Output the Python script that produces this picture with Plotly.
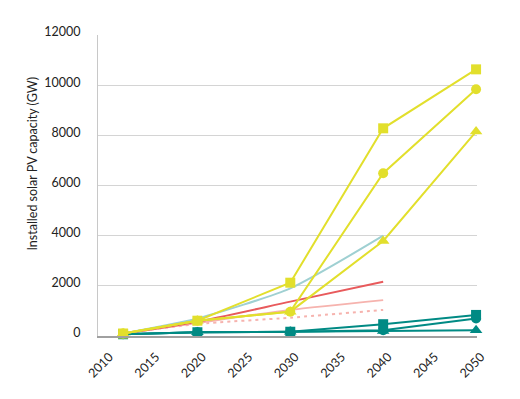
import plotly.graph_objects as go

# Years
years_marked = [2012, 2020, 2030, 2040, 2050]
years_lines = [2012, 2020, 2030, 2040]

# Yellow scenario series (marked)
yellow_square = [100, 610, 2125, 8280, 10630]
yellow_circle = [100, 610, 970, 6490, 9840]
yellow_triangle = [100, 610, 970, 3790, 8150]

# Teal scenario series (marked)
teal_square = [70, 150, 170, 470, 840]
teal_circle = [70, 150, 170, 230, 700]
teal_triangle = [70, 150, 170, 200, 230]

# Unmarked lines
light_blue = [100, 700, 1900, 4000]
red_line = [100, 570, 1370, 2160]
pink_line = [100, 520, 1040, 1430]
pink_dotted = [100, 480, 730, 1040]

y_ticks = [0, 2000, 4000, 6000, 8000, 10000, 12000]
x_ticks = [2010, 2015, 2020, 2025, 2030, 2035, 2040, 2045, 2050]
y_title = "Installed solar PV capacity (GW)"

YELLOW = "#E2DF2C"
TEAL = "#008A84"

fig = go.Figure()

def line(x, y, color, dash="solid", width=2, shape="spline"):
    fig.add_trace(go.Scatter(x=x, y=y, mode="lines",
                             line=dict(color=color, width=width, dash=dash, shape=shape, smoothing=0.6),
                             showlegend=False, cliponaxis=False, hoverinfo="skip"))

line(years_lines, pink_dotted, "#F6B3AE", dash="3px,4px", width=2)
line(years_lines, pink_line, "#F6B3AE", width=2)
line(years_lines, red_line, "#E85A5C", width=2)
line(years_lines, light_blue, "#9FD0D2", width=2)

def marked(y, color, symbol, size):
    fig.add_trace(go.Scatter(x=years_marked, y=y, mode="lines+markers",
                             line=dict(color=color, width=2),
                             marker=dict(color=color, symbol=symbol, size=size),
                             showlegend=False, cliponaxis=False))

marked(teal_triangle, TEAL, "triangle-up", 11)
marked(teal_circle, TEAL, "circle", 10)
marked(teal_square, TEAL, "square", 10)
marked(yellow_circle, YELLOW, "circle", 10)
marked(yellow_triangle, YELLOW, "triangle-up", 11)
marked(yellow_square, YELLOW, "square", 10)

fig.add_annotation(text=y_title, textangle=-90, xref="paper", yref="paper",
                   x=-0.174, y=0.573, xanchor="center", yanchor="middle",
                   showarrow=False, font=dict(size=12.5, color="#222222"))

fig.update_layout(
    width=512, height=391,
    margin=dict(l=90, r=43, t=27, b=63),
    paper_bgcolor="white", plot_bgcolor="white",
    font=dict(family="Lato, sans-serif", color="#222222", size=12.5),
    xaxis=dict(range=[2009.3, 2050.1], tickmode="array", tickvals=x_ticks,
               ticktext=[str(v) for v in x_ticks], tickangle=-45, automargin=False,
               showgrid=False, zeroline=False, showline=True, linecolor="#A0A0A0",
               linewidth=1.5, ticks="", ticklabelstandoff=7, ticklabelshift=5),
    yaxis=dict(range=[0, 12000], tickmode="array", tickvals=y_ticks,
               ticktext=[str(v) for v in y_ticks], automargin=False,
               showgrid=True, gridcolor="#D4D4D4", gridwidth=1, zeroline=False,
               showline=True, linecolor="#C8C8C8", linewidth=1, ticks="",
               ticklabelstandoff=14, ticklabelshift=-3),
)

fig.write_html("out.html")
